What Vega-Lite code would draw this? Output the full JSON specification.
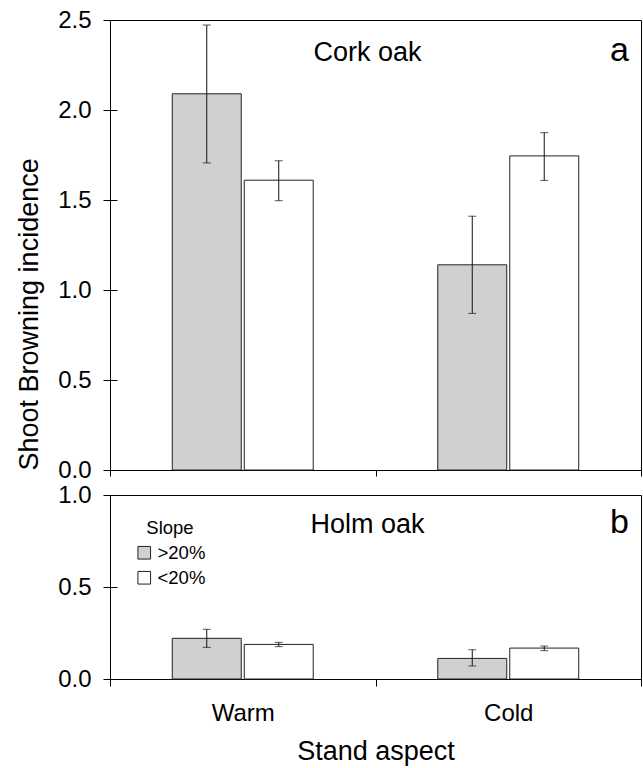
{
  "$schema": "https://vega.github.io/schema/vega-lite/v6.json",
  "padding": {"left": 15, "top": 7, "right": 1, "bottom": 2},
  "config": {
    "font": "Liberation Sans",
    "view": {"stroke": "#000000", "strokeWidth": 1},
    "axis": {
      "labelFont": "Liberation Sans", "titleFont": "Liberation Sans",
      "labelFontSize": 24, "titleFontSize": 27, "titleFontWeight": "normal",
      "labelColor": "#000000", "titleColor": "#000000",
      "domainColor": "#000000", "tickColor": "#000000", "domainWidth": 1, "tickWidth": 1
    },
    "text": {"font": "Liberation Sans", "color": "#000000"}
  },
  "datasets": {
    "rows": [
      {"species": "Cork oak", "aspect": "Warm", "slope": ">20%", "mean": 2.09, "lo": 1.706, "hi": 2.472},
      {"species": "Cork oak", "aspect": "Warm", "slope": "<20%", "mean": 1.61, "lo": 1.496, "hi": 1.718},
      {"species": "Cork oak", "aspect": "Cold", "slope": ">20%", "mean": 1.14, "lo": 0.87, "hi": 1.41},
      {"species": "Cork oak", "aspect": "Cold", "slope": "<20%", "mean": 1.745, "lo": 1.609, "hi": 1.874},
      {"species": "Holm oak", "aspect": "Warm", "slope": ">20%", "mean": 0.221, "lo": 0.172, "hi": 0.27},
      {"species": "Holm oak", "aspect": "Warm", "slope": "<20%", "mean": 0.188, "lo": 0.176, "hi": 0.199},
      {"species": "Holm oak", "aspect": "Cold", "slope": ">20%", "mean": 0.112, "lo": 0.071, "hi": 0.159},
      {"species": "Holm oak", "aspect": "Cold", "slope": "<20%", "mean": 0.168, "lo": 0.154, "hi": 0.179}
    ]
  },
  "resolve": {"scale": {"fill": "independent"}, "legend": {"fill": "independent"}},
  "spacing": 25,
  "bounds": "flush",
  "vconcat": [
    {
      "width": 531,
      "height": 450,
      "data": {"name": "rows"},
      "transform": [{"filter": "datum.species === 'Cork oak'"}],
      "encoding": {
        "x": {"field": "aspect", "type": "nominal", "sort": ["Warm", "Cold"],
              "scale": {"domain": ["Warm", "Cold"], "paddingInner": 0, "paddingOuter": 0},
              "axis": {"labels": false, "title": null, "tickBand": "extent", "tickSize": 6}},
        "xOffset": {"field": "slope", "type": "nominal",
                    "scale": {"domain": [">20%", "<20%"], "paddingInner": 0.042, "paddingOuter": 0.865}}
      },
      "layer": [
        {
          "mark": {"type": "bar", "stroke": "#222222", "strokeWidth": 1},
          "encoding": {
            "y": {"field": "mean", "type": "quantitative",
                  "scale": {"domain": [0, 2.5], "nice": false, "zero": true},
                  "axis": {"values": [0, 0.5, 1, 1.5, 2, 2.5], "format": ".1f", "tickSize": 7, "labelPadding": 12,
                           "grid": true, "gridColor": "#000000", "gridDash": [7, 2000], "gridWidth": 1,
                           "title": "Shoot Browning incidence", "titleAnchor": "start", "titlePadding": 14}},
            "fill": {"field": "slope", "type": "nominal",
                     "scale": {"domain": [">20%", "<20%"], "range": ["#d0d0d0", "#ffffff"]}, "legend": null}
          }
        },
        {
          "mark": {"type": "rule", "color": "#111111", "strokeWidth": 1},
          "encoding": {"y": {"field": "lo", "type": "quantitative"}, "y2": {"field": "hi"}}
        },
        {
          "mark": {"type": "tick", "color": "#111111", "size": 8, "thickness": 1},
          "encoding": {"y": {"field": "lo", "type": "quantitative"}}
        },
        {
          "mark": {"type": "tick", "color": "#111111", "size": 8, "thickness": 1},
          "encoding": {"y": {"field": "hi", "type": "quantitative"}}
        },
        {
          "data": {"values": [{"label": "Cork oak"}]},
          "mark": {"type": "text", "fontSize": 27, "align": "center", "baseline": "alphabetic", "dx": -8, "dy": 41},
          "encoding": {"x": {"datum": "Cold", "bandPosition": 0}, "y": {"datum": 2.5}, "text": {"field": "label"}, "xOffset": null}
        },
        {
          "data": {"values": [{"label": "a"}]},
          "mark": {"type": "text", "fontSize": 34, "align": "right", "baseline": "alphabetic", "dx": -12, "dy": 41},
          "encoding": {"x": {"datum": "Cold", "bandPosition": 1}, "y": {"datum": 2.5}, "text": {"field": "label"}, "xOffset": null}
        }
      ]
    },
    {
      "width": 531,
      "height": 184,
      "data": {"name": "rows"},
      "transform": [{"filter": "datum.species === 'Holm oak'"}],
      "encoding": {
        "x": {"field": "aspect", "type": "nominal", "sort": ["Warm", "Cold"],
              "scale": {"domain": ["Warm", "Cold"], "paddingInner": 0, "paddingOuter": 0},
              "axis": {"labelAngle": 0, "title": "Stand aspect", "tickBand": "extent", "tickSize": 7, "labelPadding": 15, "titlePadding": 13}},
        "xOffset": {"field": "slope", "type": "nominal",
                    "scale": {"domain": [">20%", "<20%"], "paddingInner": 0.042, "paddingOuter": 0.865}}
      },
      "layer": [
        {
          "mark": {"type": "bar", "stroke": "#222222", "strokeWidth": 1},
          "encoding": {
            "y": {"field": "mean", "type": "quantitative",
                  "scale": {"domain": [0, 1], "nice": false, "zero": true},
                  "axis": {"values": [0, 0.5, 1], "format": ".1f", "tickSize": 7, "labelPadding": 12,
                           "grid": true, "gridColor": "#000000", "gridDash": [7, 2000], "gridWidth": 1,
                           "title": null}},
            "fill": {"field": "slope", "type": "nominal",
                     "scale": {"domain": [">20%", "<20%"], "range": ["#d0d0d0", "#ffffff"]},
                     "legend": {"title": "Slope", "orient": "none", "legendX": 25, "legendY": 24,
                                "symbolType": "square", "symbolSize": 160, "symbolStrokeColor": "#222222", "symbolStrokeWidth": 1,
                                "labelFontSize": 18.5, "titleFontSize": 18.5, "titleFontWeight": "normal",
                                "labelColor": "#000000", "titleColor": "#000000", "labelOffset": 4,
                                "rowPadding": 6, "titlePadding": 6, "titleAnchor": "middle"}}
          }
        },
        {
          "mark": {"type": "rule", "color": "#111111", "strokeWidth": 1},
          "encoding": {"y": {"field": "lo", "type": "quantitative"}, "y2": {"field": "hi"}}
        },
        {
          "mark": {"type": "tick", "color": "#111111", "size": 8, "thickness": 1},
          "encoding": {"y": {"field": "lo", "type": "quantitative"}}
        },
        {
          "mark": {"type": "tick", "color": "#111111", "size": 8, "thickness": 1},
          "encoding": {"y": {"field": "hi", "type": "quantitative"}}
        },
        {
          "data": {"values": [{"label": "Holm oak"}]},
          "mark": {"type": "text", "fontSize": 27, "align": "center", "baseline": "alphabetic", "dx": -8, "dy": 38},
          "encoding": {"x": {"datum": "Cold", "bandPosition": 0}, "y": {"datum": 1}, "text": {"field": "label"}, "xOffset": null}
        },
        {
          "data": {"values": [{"label": "b"}]},
          "mark": {"type": "text", "fontSize": 34, "align": "right", "baseline": "alphabetic", "dx": -12, "dy": 38},
          "encoding": {"x": {"datum": "Cold", "bandPosition": 1}, "y": {"datum": 1}, "text": {"field": "label"}, "xOffset": null}
        }
      ]
    }
  ]
}
